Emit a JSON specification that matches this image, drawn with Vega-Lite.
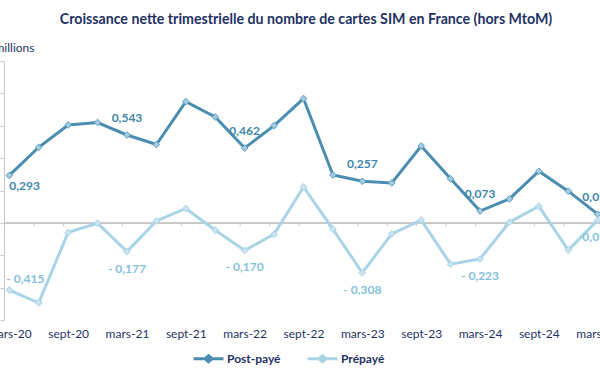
{
  "$schema": "https://vega.github.io/schema/vega-lite/v6.json",
  "autosize": "none",
  "width": 596,
  "height": 259,
  "padding": {"left": 4, "top": 61, "right": 0, "bottom": 52},
  "background": "white",
  "config": {
    "font": "Lato",
    "view": {"stroke": null},
    "locale": {"number": {"decimal": ",", "thousands": " ", "grouping": [3], "currency": ["", " €"], "minus": "- "}}
  },
  "title": {
    "text": "Croissance nette trimestrielle du nombre de cartes SIM en France (hors MtoM)",
    "fontSize": 14.2,
    "fontWeight": "bold",
    "color": "#1F3264",
    "anchor": "middle",
    "dx": 4,
    "offset": 14
  },
  "data": {
    "values": [
      {"trimestre": "mars-20", "serie": "Post-payé", "valeur": 0.293},
      {"trimestre": "juin-20", "serie": "Post-payé", "valeur": 0.467},
      {"trimestre": "sept-20", "serie": "Post-payé", "valeur": 0.605},
      {"trimestre": "déc-20", "serie": "Post-payé", "valeur": 0.620},
      {"trimestre": "mars-21", "serie": "Post-payé", "valeur": 0.543},
      {"trimestre": "juin-21", "serie": "Post-payé", "valeur": 0.484},
      {"trimestre": "sept-21", "serie": "Post-payé", "valeur": 0.749},
      {"trimestre": "déc-21", "serie": "Post-payé", "valeur": 0.654},
      {"trimestre": "mars-22", "serie": "Post-payé", "valeur": 0.462},
      {"trimestre": "juin-22", "serie": "Post-payé", "valeur": 0.601},
      {"trimestre": "sept-22", "serie": "Post-payé", "valeur": 0.768},
      {"trimestre": "déc-22", "serie": "Post-payé", "valeur": 0.296},
      {"trimestre": "mars-23", "serie": "Post-payé", "valeur": 0.257},
      {"trimestre": "juin-23", "serie": "Post-payé", "valeur": 0.247},
      {"trimestre": "sept-23", "serie": "Post-payé", "valeur": 0.475},
      {"trimestre": "déc-23", "serie": "Post-payé", "valeur": 0.272},
      {"trimestre": "mars-24", "serie": "Post-payé", "valeur": 0.073},
      {"trimestre": "juin-24", "serie": "Post-payé", "valeur": 0.148},
      {"trimestre": "sept-24", "serie": "Post-payé", "valeur": 0.319},
      {"trimestre": "déc-24", "serie": "Post-payé", "valeur": 0.196},
      {"trimestre": "mars-25", "serie": "Post-payé", "valeur": 0.054},
      {"trimestre": "mars-20", "serie": "Prépayé", "valeur": -0.415},
      {"trimestre": "juin-20", "serie": "Prépayé", "valeur": -0.494},
      {"trimestre": "sept-20", "serie": "Prépayé", "valeur": -0.059},
      {"trimestre": "déc-20", "serie": "Prépayé", "valeur": -0.002},
      {"trimestre": "mars-21", "serie": "Prépayé", "valeur": -0.177},
      {"trimestre": "juin-21", "serie": "Prépayé", "valeur": 0.012},
      {"trimestre": "sept-21", "serie": "Prépayé", "valeur": 0.089},
      {"trimestre": "déc-21", "serie": "Prépayé", "valeur": -0.045},
      {"trimestre": "mars-22", "serie": "Prépayé", "valeur": -0.170},
      {"trimestre": "juin-22", "serie": "Prépayé", "valeur": -0.070},
      {"trimestre": "sept-22", "serie": "Prépayé", "valeur": 0.222},
      {"trimestre": "déc-22", "serie": "Prépayé", "valeur": -0.039},
      {"trimestre": "mars-23", "serie": "Prépayé", "valeur": -0.308},
      {"trimestre": "juin-23", "serie": "Prépayé", "valeur": -0.068},
      {"trimestre": "sept-23", "serie": "Prépayé", "valeur": 0.017},
      {"trimestre": "déc-23", "serie": "Prépayé", "valeur": -0.255},
      {"trimestre": "mars-24", "serie": "Prépayé", "valeur": -0.223},
      {"trimestre": "juin-24", "serie": "Prépayé", "valeur": 0.004},
      {"trimestre": "sept-24", "serie": "Prépayé", "valeur": 0.103},
      {"trimestre": "déc-24", "serie": "Prépayé", "valeur": -0.168},
      {"trimestre": "mars-25", "serie": "Prépayé", "valeur": 0.017}
    ]
  },
  "encoding": {
    "x": {
      "field": "trimestre",
      "type": "ordinal",
      "sort": null,
      "scale": {"type": "point", "range": [5.3, 593.7], "padding": 0},
      "axis": {
        "title": null,
        "domain": false,
        "ticks": false,
        "labelAngle": 0,
        "labelPadding": 8,
        "labelFontSize": 12,
        "labelColor": "#1F3264",
        "labelExpr": "indexof(datum.value, 'mars') == 0 || indexof(datum.value, 'sept') == 0 ? datum.value : ''"
      }
    },
    "y": {
      "field": "valeur",
      "type": "quantitative",
      "scale": {"domain": [-0.6, 1.0], "nice": false, "zero": false},
      "axis": {
        "values": [-0.6, -0.4, -0.2, 0, 0.2, 0.4, 0.6, 0.8, 1.0],
        "labels": false,
        "grid": false,
        "ticks": true,
        "tickSize": 4,
        "tickColor": "#C8C8C8",
        "domainColor": "#C8C8C8",
        "title": "millions",
        "titleAngle": 0,
        "titleAlign": "right",
        "titleBaseline": "alphabetic",
        "titleX": 30,
        "titleY": -10,
        "titleFontSize": 12,
        "titleFontWeight": "normal",
        "titleColor": "#1F3264"
      }
    }
  },
  "layer": [
    {
      "mark": {"type": "rule", "color": "#C8C8C8", "strokeWidth": 1},
      "encoding": {"x": null, "y": {"datum": 0}}
    },
    {
      "transform": [{"filter": "datum.serie == 'Post-payé'"}],
      "mark": {"type": "rule", "color": "#C8C8C8", "strokeWidth": 1, "xOffset": -4.5},
      "encoding": {"y": {"datum": 0}, "y2": {"datum": -0.02}}
    },
    {
      "mark": {"type": "line", "strokeWidth": 3},
      "encoding": {
        "color": {
          "field": "serie",
          "type": "nominal",
          "scale": {"domain": ["Post-payé", "Prépayé"], "range": ["#4A8DB0", "#A9D3E6"]},
          "legend": {
            "orient": "none",
            "direction": "horizontal",
            "legendX": 188,
            "legendY": 281,
            "title": null,
            "symbolType": "M-1,0L1,0M0,-0.2L0.23,0L0,0.2L-0.23,0Z",
            "symbolSize": 900,
            "symbolStrokeWidth": 3,
            "labelFontSize": 12,
            "labelFontWeight": "bold",
            "labelColor": "#1F3264",
            "labelOffset": 2,
            "columnPadding": 20
          }
        }
      }
    },
    {
      "mark": {"type": "point", "shape": "diamond", "filled": true, "size": 45, "strokeWidth": 1, "opacity": 1},
      "encoding": {
        "fill": {
          "field": "serie",
          "type": "nominal",
          "scale": {"domain": ["Post-payé", "Prépayé"], "range": ["#A3CCE0", "#C9E5F1"]},
          "legend": null
        },
        "stroke": {
          "field": "serie",
          "type": "nominal",
          "scale": {"domain": ["Post-payé", "Prépayé"], "range": ["#5E9DBE", "#A9D3E6"]},
          "legend": null
        }
      }
    },
    {
      "transform": [{"filter": "datum.serie == 'Post-payé' && datum.trimestre == 'mars-20'"}],
      "mark": {"type": "text", "align": "left", "baseline": "middle", "dy": 11, "fontSize": 12, "fontWeight": "bold", "color": "#3E86AA"},
      "encoding": {"text": {"field": "valeur", "type": "quantitative", "format": ".3f"}}
    },
    {
      "transform": [{"filter": "datum.serie == 'Post-payé' && indexof(datum.trimestre, 'mars') == 0 && datum.trimestre != 'mars-20'"}],
      "mark": {"type": "text", "align": "center", "baseline": "middle", "dy": -17, "fontSize": 12, "fontWeight": "bold", "color": "#3E86AA"},
      "encoding": {"text": {"field": "valeur", "type": "quantitative", "format": ".3f"}}
    },
    {
      "transform": [{"filter": "datum.serie == 'Prépayé' && datum.trimestre == 'mars-20'"}],
      "mark": {"type": "text", "align": "left", "baseline": "middle", "dx": -3, "dy": -11, "fontSize": 12, "fontWeight": "bold", "color": "#84BFDB"},
      "encoding": {"text": {"field": "valeur", "type": "quantitative", "format": ".3f"}}
    },
    {
      "transform": [{"filter": "datum.serie == 'Prépayé' && indexof(datum.trimestre, 'mars') == 0 && datum.trimestre != 'mars-20'"}],
      "mark": {"type": "text", "align": "center", "baseline": "middle", "dy": 17, "fontSize": 12, "fontWeight": "bold", "color": "#84BFDB"},
      "encoding": {"text": {"field": "valeur", "type": "quantitative", "format": ".3f"}}
    }
  ]
}
